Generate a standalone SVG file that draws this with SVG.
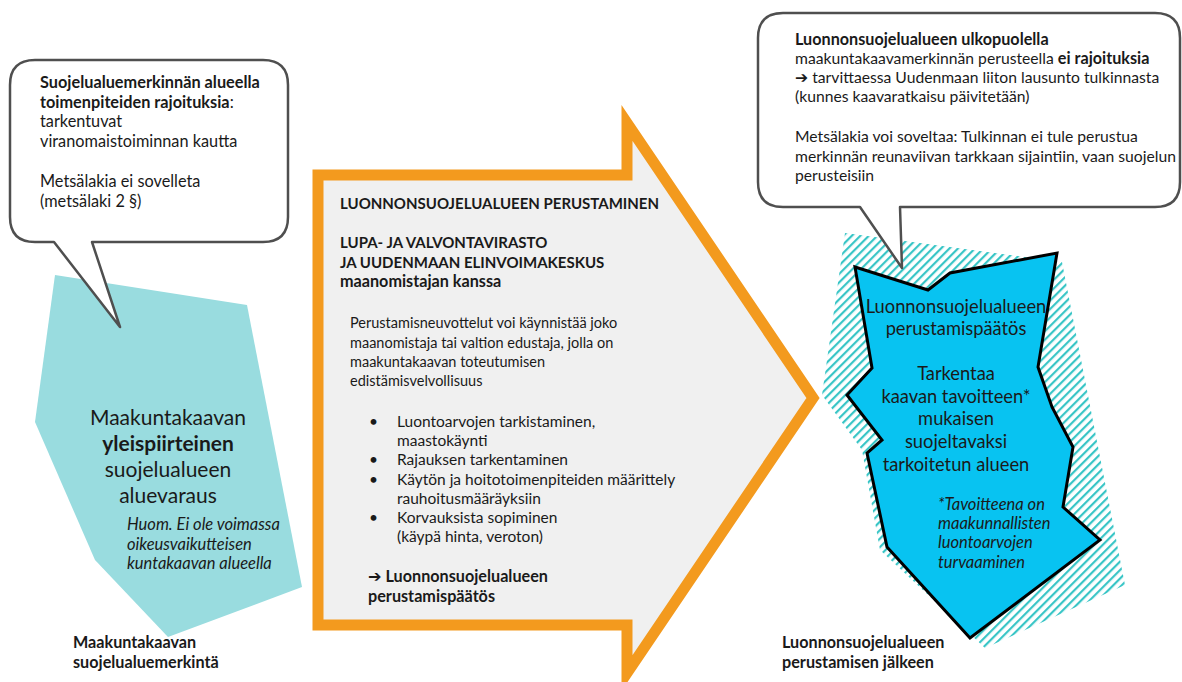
<svg xmlns="http://www.w3.org/2000/svg" width="1182" height="682" viewBox="0 0 1182 682">
<defs>
<pattern id="hatch" patternUnits="userSpaceOnUse" width="6" height="6" patternTransform="rotate(45)">
<rect x="0" y="0" width="2.2" height="6" fill="#38c5c6"/>
</pattern>
</defs>
<style>
text{font-family:Lato,"DejaVu Sans",sans-serif;fill:#1a1a1a}
.b{font-weight:bold}
.i{font-style:italic}
.lc{font-size:16.3px}
.lcb{font-size:16.3px;font-weight:bold}
.cap{font-size:15px;font-weight:bold}
.lb{font-size:16.2px;font-weight:bold}
.para{font-size:14.5px}
.bul{font-size:15.5px}
.rc{font-size:15.7px}
.rcb{font-size:16.2px;font-weight:bold}
.big{font-size:21px}
.blu{font-size:18.3px}
.it{font-size:16.5px;font-style:italic}
.callout{fill:#fff;stroke:#4f4f4f;stroke-width:2.5;stroke-linejoin:round}
</style>
<rect width="1182" height="682" fill="#fff"/>

<g id="left-area">
<polygon points="55,275 247,305 302,587 168,637 95,560 35,422" fill="#99dcdf"/>
<text x="168" y="425" text-anchor="middle" class="big">Maakuntakaavan</text>
<text x="168" y="451" text-anchor="middle" class="big b">yleispiirteinen</text>
<text x="168" y="477" text-anchor="middle" class="big">suojelualueen</text>
<text x="168" y="503" text-anchor="middle" class="big">aluevaraus</text>
<text class="it" x="127" y="530">Huom. Ei ole voimassa</text>
<text class="it" x="127" y="550">oikeusvaikutteisen</text>
<text class="it" x="127" y="569">kuntakaavan alueella</text>
</g>

<g id="left-label">
<text class="lb" x="73" y="648">Maakuntakaavan</text>
<text class="lb" x="73" y="668">suojelualuemerkintä</text>
</g>

<g id="left-callout">
<path class="callout" d="M35,60 H263 Q288,60 288,85 V217 Q288,242 263,242 H92 L120,327 L54,242 H35 Q10,242 10,217 V85 Q10,60 35,60 Z"/>
<text class="lcb" x="40" y="88">Suojelualuemerkinnän alueella</text>
<text class="lc" x="40" y="108"><tspan class="lcb">toimenpiteiden rajoituksia</tspan>:</text>
<text class="lc" x="40" y="127">tarkentuvat</text>
<text class="lc" x="40" y="147">viranomaistoiminnan kautta</text>
<text class="lc" x="40" y="187">Metsälakia ei sovelleta</text>
<text class="lc" x="40" y="207">(metsälaki 2 §)</text>
</g>

<g id="process-arrow">
<path d="M318,175 H627 V123 L813,398 L627,673 V625 H318 Z" fill="#f0f0f0" stroke="#f39a1e" stroke-width="11" stroke-linejoin="miter" stroke-miterlimit="10"/>
<text class="cap" x="340" y="209">LUONNONSUOJELUALUEEN PERUSTAMINEN</text>
<text class="cap" x="340" y="248">LUPA- JA VALVONTAVIRASTO</text>
<text class="cap" x="340" y="268">JA UUDENMAAN ELINVOIMAKESKUS</text>
<text class="lb" x="340" y="287">maanomistajan kanssa</text>
<text class="para" x="350" y="328">Perustamisneuvottelut voi käynnistää joko</text>
<text class="para" x="350" y="348">maanomistaja tai valtion edustaja, jolla on</text>
<text class="para" x="350" y="367">maakuntakaavan toteutumisen</text>
<text class="para" x="350" y="386">edistämisvelvollisuus</text>
<text class="bul" x="369" y="427">•</text>
<text class="bul" x="397" y="427">Luontoarvojen tarkistaminen,</text>
<text class="bul" x="397" y="446">maastokäynti</text>
<text class="bul" x="369" y="465">•</text>
<text class="bul" x="397" y="465">Rajauksen tarkentaminen</text>
<text class="bul" x="369" y="485">•</text>
<text class="bul" x="397" y="485">Käytön ja hoitotoimenpiteiden määrittely</text>
<text class="bul" x="397" y="504">rauhoitusmääräyksiin</text>
<text class="bul" x="369" y="523">•</text>
<text class="bul" x="397" y="523">Korvauksista sopiminen</text>
<text class="bul" x="397" y="542">(käypä hinta, veroton)</text>
<text class="lb" x="368" y="582">➔ Luonnonsuojelualueen</text>
<text class="lb" x="368" y="602">perustamispäätös</text>
</g>

<g id="right-area">
<polygon points="845,233 1062,262 1125,585 985,648 880,550 862,450 822,395" fill="url(#hatch)"/>
<polygon points="855,267 928,290 950,273 1057,253 1038,367 1052,407 1073,447 1063,507 1100,540 970,638 887,547 867,453 882,440 847,395 872,368" fill="#08c3f1" stroke="#000" stroke-width="3" stroke-linejoin="miter"/>
<text x="956" y="313" text-anchor="middle" class="blu">Luonnonsuojelualueen</text>
<text x="956" y="335" text-anchor="middle" class="blu">perustamispäätös</text>
<text x="956" y="380" text-anchor="middle" class="blu">Tarkentaa</text>
<text x="956" y="403" text-anchor="middle" class="blu">kaavan tavoitteen*</text>
<text x="956" y="425" text-anchor="middle" class="blu">mukaisen</text>
<text x="956" y="448" text-anchor="middle" class="blu">suojeltavaksi</text>
<text x="956" y="471" text-anchor="middle" class="blu">tarkoitetun alueen</text>
<text class="it" x="938" y="510">*Tavoitteena on</text>
<text class="it" x="938" y="529">maakunnallisten</text>
<text class="it" x="938" y="548">luontoarvojen</text>
<text class="it" x="938" y="568">turvaaminen</text>
</g>

<g id="right-label">
<text class="lb" x="782" y="648">Luonnonsuojelualueen</text>
<text class="lb" x="782" y="668">perustamisen jälkeen</text>
</g>

<g id="right-callout">
<path class="callout" d="M783,13 H1155 Q1180,13 1180,38 V182 Q1180,207 1155,207 H900 L902,268 L860,207 H783 Q758,207 758,182 V38 Q758,13 783,13 Z"/>
<text class="rcb" x="795" y="45">Luonnonsuojelualueen ulkopuolella</text>
<text class="rc" x="795" y="64">maakuntakaavamerkinnän perusteella <tspan class="rcb">ei rajoituksia</tspan></text>
<text class="rc" x="795" y="83"><tspan class="b">➔</tspan> tarvittaessa Uudenmaan liiton lausunto tulkinnasta</text>
<text class="rc" x="795" y="102">(kunnes kaavaratkaisu päivitetään)</text>
<text class="rc" x="795" y="142">Metsälakia voi soveltaa: Tulkinnan ei tule perustua</text>
<text class="rc" x="795" y="162">merkinnän reunaviivan tarkkaan sijaintiin, vaan suojelun</text>
<text class="rc" x="795" y="181">perusteisiin</text>
</g>

<g id="connectors"></g>
</svg>
